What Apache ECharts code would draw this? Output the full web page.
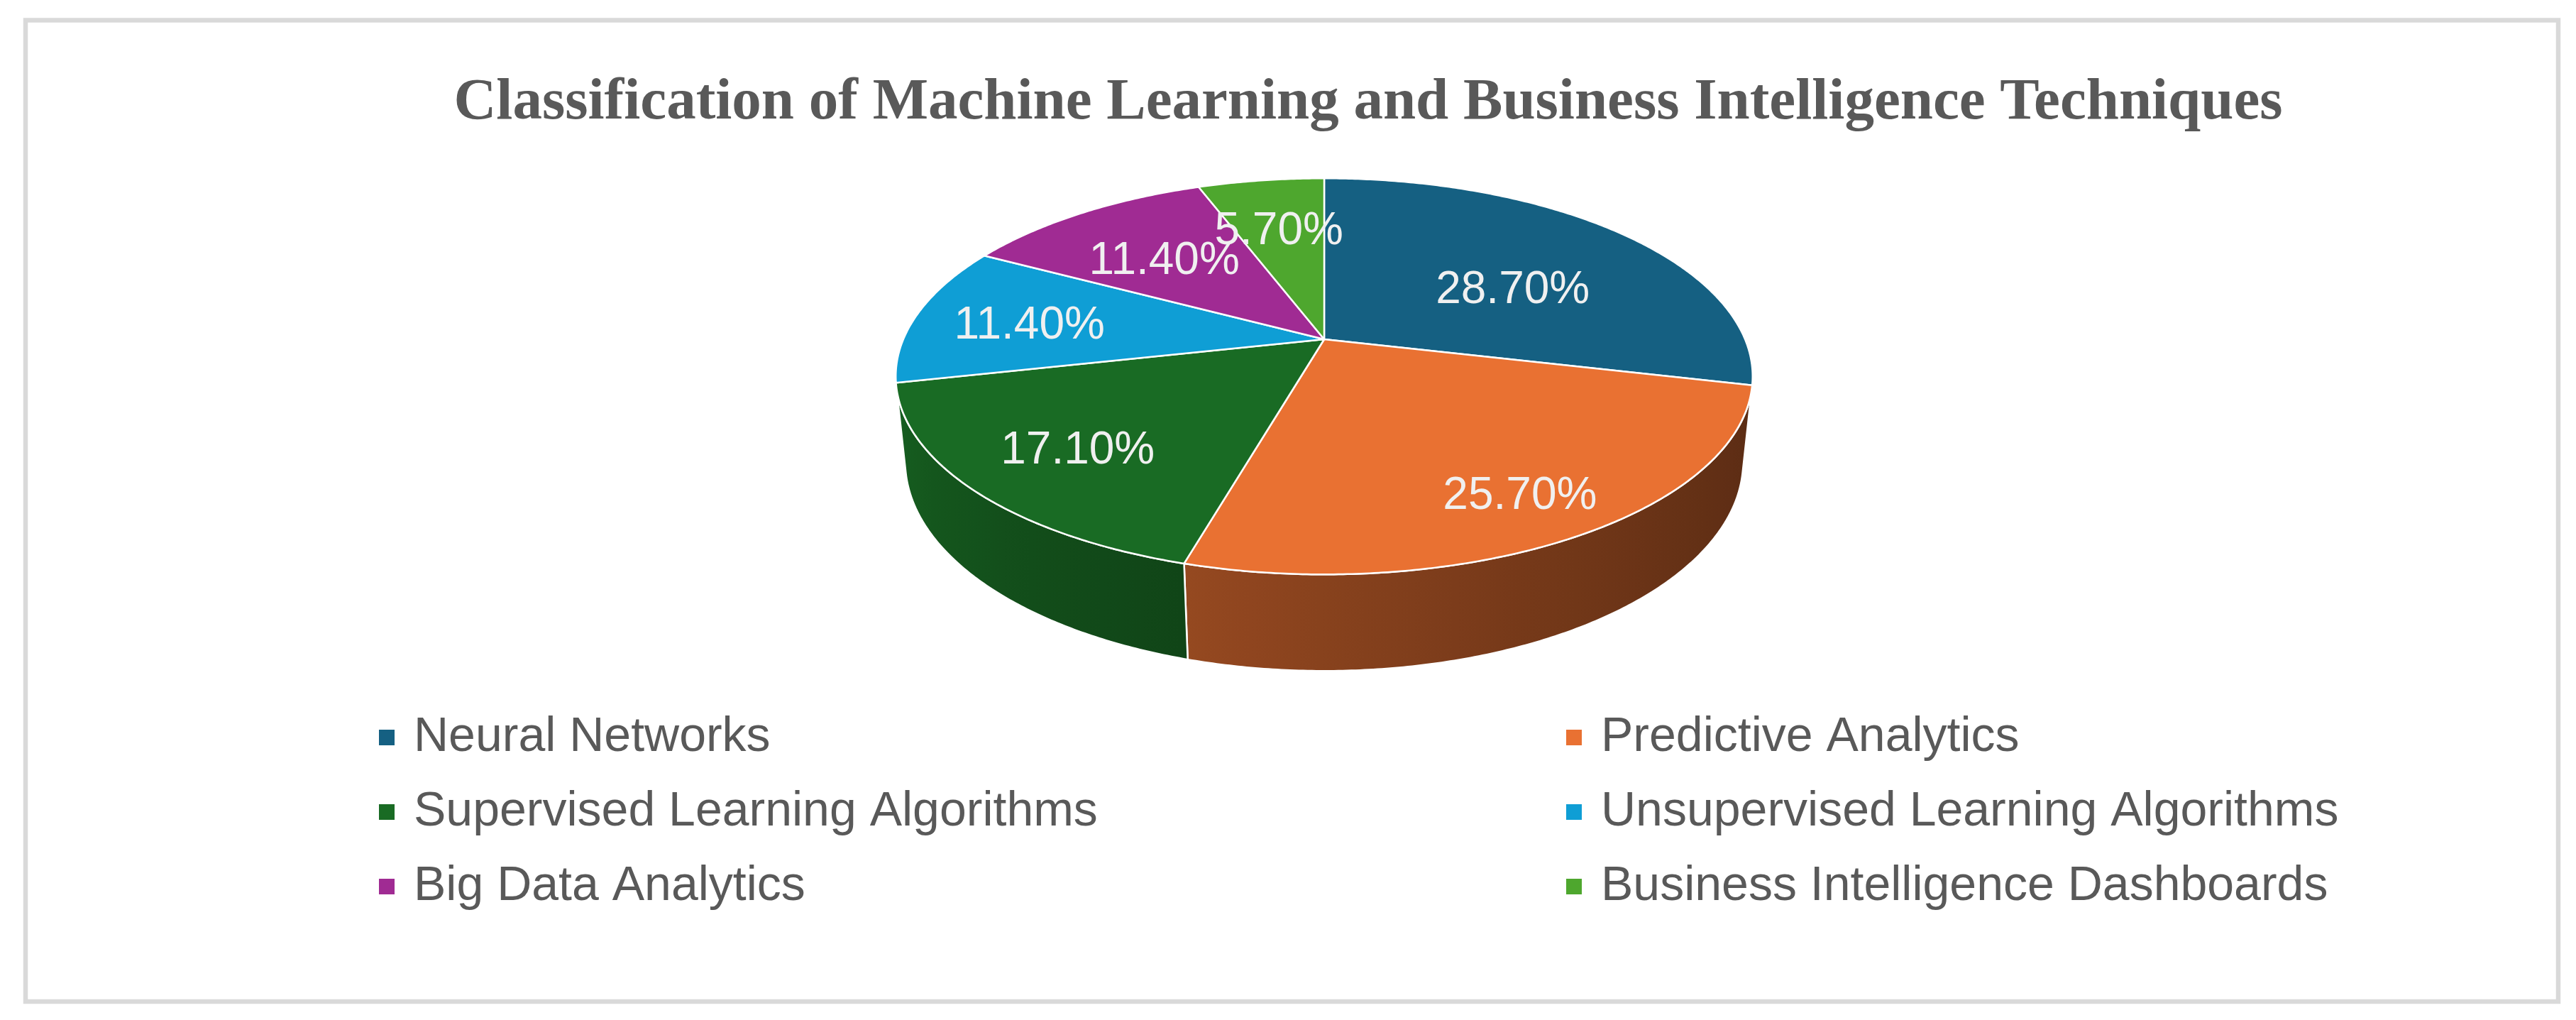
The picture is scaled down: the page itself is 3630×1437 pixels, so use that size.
<!DOCTYPE html>
<html>
<head>
<meta charset="utf-8">
<title>Classification of Machine Learning and Business Intelligence Techniques</title>
<script src="https://cdn.jsdelivr.net/npm/echarts@6/dist/echarts.min.js"></script>
<style>
  html, body { margin: 0; padding: 0; background: #fff; }
  #chart { width: 3630px; height: 1437px; }
</style>
</head>
<body>
<div id="chart"></div>
<script>
// data
const categories = [
  "Neural Networks",
  "Predictive Analytics",
  "Supervised Learning Algorithms",
  "Unsupervised Learning Algorithms",
  "Big Data Analytics",
  "Business Intelligence Dashboards",
];
const shares = [28.7, 25.7, 17.1, 11.4, 11.4, 5.7];

// style
const palette = ["#156082", "#E97132", "#196B24", "#0F9ED5", "#A02B93", "#4EA72E"];
const labelRadius = [0.56, 0.8, 0.73, 0.72, 0.63, 0.68];
const labelTurn = [-6, 0, 0, 0, 0, 0];
const labelDrop = 8;

// 3d view of the pie (tilted disc seen in perspective)
const view = {
  cx: 1866,
  cy: 478,
  focal: 2823,
  dist: 4.76,
  tilt: (27 * Math.PI) / 180,
  depth: 0.2284,
};

const total = shares.reduce((s, v) => s + v, 0);
const starts = [];
let acc = 0;
shares.forEach((v) => {
  starts.push(90 - (360 * acc) / total);
  acc += v;
});

function project(theta, r, level) {
  const t = (theta * Math.PI) / 180;
  const X = r * Math.cos(t);
  const Z = -r * Math.sin(t);
  const d = view.dist - level * Math.sin(view.tilt) - Z * Math.cos(view.tilt);
  const up = level * Math.cos(view.tilt) - Z * Math.sin(view.tilt);
  return [view.cx + (view.focal * X) / d, view.cy - (view.focal * up) / d];
}

function arc(a, b, r, level) {
  const n = Math.max(2, Math.ceil(Math.abs(b - a) / 0.5));
  const pts = [];
  for (let k = 0; k <= n; k++) pts.push(project(a + ((b - a) * k) / n, r, level));
  return pts;
}

function shade(hex, f) {
  const n = parseInt(hex.slice(1), 16);
  const r = Math.round(((n >> 16) & 255) * f);
  const g = Math.round(((n >> 8) & 255) * f);
  const b = Math.round((n & 255) * f);
  return "rgb(" + r + "," + g + "," + b + ")";
}

// side wall only visible where it faces the camera
const edge = (Math.asin(1 / (view.dist * Math.cos(view.tilt))) * 180) / Math.PI;
const wallLo = -180 + edge;
const wallHi = -edge;

function wallFactor(theta) {
  const u = Math.min(1, Math.max(0, (wallHi - theta) / (wallHi - wallLo)));
  return 0.39 + 0.51 * Math.pow(u, 1.4);
}

function renderSlice(params, api) {
  const i = api.value(0);
  const a0 = starts[i];
  const a1 = a0 - (360 * shares[i]) / total;
  const color = palette[i];
  const children = [];

  const lo = Math.max(a1, wallLo);
  const hi = Math.min(a0, wallHi);
  if (lo < hi) {
    const top = arc(lo, hi, 1, 0);
    const bottom = arc(hi, lo, 1, -view.depth);
    const xl = project(lo, 1, 0)[0];
    const xr = project(hi, 1, 0)[0];
    const stops = [];
    const m = 12;
    for (let k = 0; k <= m; k++) {
      const th = lo + ((hi - lo) * k) / m;
      const x = project(th, 1, 0)[0];
      stops.push({
        offset: Math.min(1, Math.max(0, (x - xl) / (xr - xl))),
        color: shade(color, wallFactor(th)),
      });
    }
    children.push({
      type: "polygon",
      shape: { points: top.concat(bottom) },
      style: {
        fill: {
          type: "linear",
          x: xl, y: 0, x2: xr, y2: 0,
          global: true,
          colorStops: stops,
        },
        stroke: "#FFFFFF",
        lineWidth: 2.5,
        lineJoin: "round",
      },
    });
  }

  children.push({
    type: "polygon",
    shape: { points: [project(0, 0, 0)].concat(arc(a0, a1, 1, 0)) },
    style: { fill: color, stroke: "#FFFFFF", lineWidth: 2.5, lineJoin: "round" },
  });

  const mid = (a0 + a1) / 2 + labelTurn[i];
  const p = project(mid, labelRadius[i], 0);
  children.push({
    type: "text",
    x: p[0],
    y: p[1] + labelDrop,
    z2: 100,
    style: {
      text: shares[i].toFixed(2) + "%",
      fill: "#F0F0F0",
      font: '64px "Liberation Sans", Arial, sans-serif',
      align: "center",
      verticalAlign: "middle",
    },
  });

  return { type: "group", children: children };
}

const legendStyle = {
  orient: "vertical",
  top: 999,
  padding: 0,
  icon: "rect",
  itemWidth: 22,
  itemHeight: 22,
  itemGap: 25,
  selectedMode: false,
  textStyle: {
    fontFamily: "Liberation Sans",
    fontSize: 68,
    color: "#595959",
    lineHeight: 80,
    padding: [0, 0, 0, 22],
  },
};

const chart = echarts.init(document.getElementById("chart"));
chart.setOption({
  animation: false,
  backgroundColor: "#FFFFFF",
  color: palette,
  title: {
    text: "Classification of Machine Learning and Business Intelligence Techniques",
    left: 1928,
    top: 146,
    padding: 0,
    textAlign: "center",
    textVerticalAlign: "middle",
    textStyle: {
      fontFamily: "Liberation Serif",
      fontWeight: "bold",
      fontSize: 83,
      color: "#595959",
    },
  },
  legend: [
    Object.assign({}, legendStyle, {
      left: 534,
      data: categories.filter((c, i) => i % 2 === 0),
    }),
    Object.assign({}, legendStyle, {
      left: 2207,
      data: categories.filter((c, i) => i % 2 === 1),
    }),
  ],
  graphic: [
    {
      type: "rect",
      z: -10,
      silent: true,
      shape: { x: 36, y: 28.5, width: 3569, height: 1382.5 },
      style: { fill: "none", stroke: "#D9D9D9", lineWidth: 6.5 },
    },
  ],
  series: categories.map((name, i) => ({
    name: name,
    type: "custom",
    coordinateSystem: "none",
    silent: true,
    itemStyle: { color: palette[i] },
    renderItem: renderSlice,
    data: [[i]],
  })),
});
</script>
</body>
</html>
